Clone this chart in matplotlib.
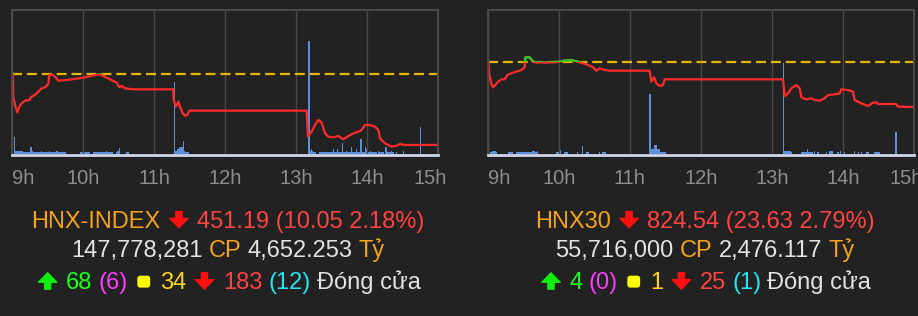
import matplotlib
matplotlib.use('Agg')
import numpy as np
from matplotlib import pyplot as plt
from matplotlib.patches import Rectangle, Polygon, FancyBboxPatch
from matplotlib.offsetbox import TextArea, HPacker, AnnotationBbox, DrawingArea
from matplotlib.transforms import ScaledTranslation

# ---- data -------------------------------------------------------------
hour_labels = ['9h', '10h', '11h', '12h', '13h', '14h', '15h']

# HNX-INDEX, minutes since 9:00 / index value
hnx_ref = 461.24
hnx_time = [0.6, 1.1, 2.5, 4.5, 6.2, 8.2, 11.0, 14.6, 16.6, 19.4, 22.3, 25.1,
            27.9, 30.7, 31.5, 34.4, 36.3, 39.2, 43.4, 46.2, 50.4, 54.7, 60.3,
            64.5, 68.7, 74.4, 77.2, 82.8, 88.5, 90.7, 92.7, 95.5, 99.7, 102.5,
            136.3, 136.6, 138.6, 140.6, 142.0, 144.2, 146.2, 148.2, 149.9,
            249.0, 250.1, 253.2, 256.1, 258.9, 261.7, 264.5, 267.3, 271.6,
            275.8, 280.0, 284.2, 288.5, 292.7, 295.5, 298.3, 302.5, 306.7,
            309.6, 311.0, 315.2, 320.8, 325.0, 327.9, 332.1, 359.4]
hnx_price = [461.35, 458.06, 456.87, 455.83, 456.64, 457.11, 457.49, 457.58,
             458.06, 458.30, 458.77, 459.24, 459.39, 459.86, 461.14, 461.14,
             460.90, 460.33, 460.38, 460.43, 460.52, 460.62, 460.76, 460.90,
             461.09, 461.22, 461.00, 460.52, 460.05, 459.39, 459.58, 459.24,
             459.15, 459.10, 459.10, 457.58, 456.64, 457.35, 456.64, 455.69,
             455.36, 455.45, 456.07, 456.07, 452.37, 453.08, 454.03, 454.74,
             454.36, 452.84, 452.37, 452.27, 452.46, 451.99, 452.46, 452.84,
             453.08, 453.32, 454.03, 454.03, 453.79, 453.32, 452.13, 451.42,
             450.95, 451.09, 451.33, 451.18, 451.19]
hnx_vol_min = [2, 3, 4, 5, 6, 7, 8, 9, 10, 11, 12, 13, 14, 15, 16, 17, 18, 19,
               20, 21, 22, 23, 24, 25, 26, 27, 28, 29, 30, 31, 32, 33, 34, 35,
               36, 37, 38, 39, 40, 41, 42, 43, 44, 45, 58, 59, 60, 61, 62, 63,
               64, 65, 69, 70, 71, 72, 73, 74, 75, 76, 77, 78, 79, 80, 81, 82,
               83, 84, 85, 88, 89, 90, 91, 97, 98,
               137, 138, 139, 140, 141, 142, 143, 144, 145, 146, 147, 148, 149,
               251, 252, 253, 254, 255, 256, 260, 261, 262, 263, 264, 265, 266,
               267, 268, 269, 270, 271, 272, 273, 274, 275, 276, 277, 278, 279,
               280, 281, 282, 283, 284, 285, 286, 287, 288, 289, 290, 291, 292,
               293, 294, 295, 296, 297, 298, 299, 300, 301, 302, 303, 304, 305,
               306, 307, 308, 310, 311, 312, 313, 314, 316, 317, 318, 319, 320,
               321, 322, 325, 331, 345]
hnx_vol = [17, 3, 3, 3, 3, 3, 3, 3, 1.3, 1.3, 1.3, 1.3, 1.3, 1.3, 7, 3, 1.3,
           1.3, 1.3, 1.3, 1.3, 1.3, 1.3, 3, 1.3, 1.3, 1.3, 1.3, 1.3, 1.3, 3,
           1.3, 1.3, 1.3, 1.3, 1.3, 3, 1.3, 1.3, 1.3, 1.3, 1.3, 1.3, 1.3, 1.3,
           1.3, 1.3, 1.3, 1.3, 1.3, 1.3, 1.3, 1.3, 1.3, 1.3, 1.3, 1.3, 1.3,
           1.3, 1.3, 1.3, 1.3, 1.3, 3, 1.3, 1.3, 1.3, 1.3, 1.3, 1.3, 3, 3, 6,
           1.3, 1.3,
           72, 3, 3, 5, 5, 7, 7, 7, 13, 3, 1.5, 1.5, 1.5,
           113, 3, 5, 3, 1.3, 1.3, 1.3, 1.3, 1.3, 1.3, 1.3, 1.3, 1.3, 1.3,
           1.3, 1.3, 1.3, 1.3, 5, 1.3, 1.3, 5, 1.3, 1.3, 1.3, 11, 1.3, 1.3,
           1.3, 3, 1.3, 1.3, 1.3, 7, 1.3, 1.3, 1.3, 5, 1.3, 1.3, 1.3, 15, 1.3,
           1.3, 1.3, 7, 5, 1.3, 1.3, 3, 1.3, 1.3, 1.3, 1.3, 1.3, 3, 1.3, 1.3,
           1.3, 1.3, 7, 1.3, 1.3, 1.3, 1.3, 3, 1.3, 1.3, 3, 27]

# HNX30
h30_ref = 848.17
h30_time = [0.6, 1.1, 2.8, 4.2, 6.2, 8.5, 11.3, 14.1, 16.3, 19.7, 24.0, 28.2,
            31.0, 31.6, 35.2, 38.1, 40.9, 43.7, 47.9, 53.6, 59.2, 64.8, 70.5,
            76.1, 80.3, 84.6, 88.8, 91.6, 94.4, 98.7, 102.9, 136.7, 138.1,
            140.4, 142.4, 145.2, 148.0, 149.4, 249.5, 250.9, 253.7, 256.5,
            260.7, 263.6, 265.0, 269.2, 273.4, 276.3, 280.5, 284.7, 287.5,
            293.2, 297.4, 298.8, 304.4, 308.7, 310.1, 315.7, 321.4, 325.6,
            328.4, 329.8, 345.3, 346.7, 360.0]
h30_price = [848.3, 841.45, 837.05, 834.93, 836.17, 837.93, 839.16, 839.16,
             841.45, 842.34, 843.22, 844.10, 845.51, 850.80, 850.80, 848.6,
             847.97, 848.3, 847.97, 848.2, 848.4, 849.03, 849.39, 848.5,
             847.63, 846.74, 845.51, 843.74, 844.98, 844.10, 843.74, 843.74,
             837.93, 840.22, 837.05, 835.64, 836.17, 839.16, 839.16, 830.35,
             831.76, 834.40, 836.17, 834.40, 829.65, 828.59, 829.12, 828.23,
             827.88, 829.12, 830.88, 831.23, 831.76, 833.88, 833.52, 832.64,
             828.23, 826.47, 825.06, 826.82, 827.0, 826.12, 826.12, 824.71,
             824.54]
h30_vol_min = [2, 3, 4, 5, 6, 7, 17, 18, 19, 20, 21, 24, 25, 26, 27, 28, 29,
               30, 31, 32, 33, 34, 35, 36, 37, 38, 39, 40, 41, 42, 58, 59, 60,
               61, 65, 66, 67, 76, 80, 83, 84, 85, 94, 97, 98, 99,
               137, 138, 139, 140, 141, 142, 143, 144, 145, 146, 147, 148, 149,
               150, 250, 251, 252, 253, 254, 255, 256, 257, 265, 266, 267, 268,
               269, 270, 271, 272, 273, 274, 276, 279, 286, 289, 290, 291, 296,
               298, 301, 310, 313, 316, 320, 321, 322, 327, 328, 329, 330, 331,
               345]
h30_vol = [1.3, 1.3, 3, 3, 3, 1.3, 1.3, 1.3, 1.3, 1.3, 1.3, 1.3, 1.3, 1.3,
           1.3, 1.3, 1.3, 1.3, 1.3, 1.3, 1.3, 1.3, 1.3, 1.3, 1.3, 3, 3, 1.3,
           1.3, 3, 1.3, 1.3, 1.3, 4, 1.3, 1.3, 1.3, 1.3, 8, 1.3, 1.3, 1.3, 1.3,
           1.3, 1.3, 1.3,
           60, 5, 5, 5, 9, 9, 5, 5, 5, 1.5, 1.5, 1.5, 1.5, 1.5,
           91, 3, 3, 3, 3, 3, 3, 1.3, 1.3, 1.3, 1.3, 1.3, 1.3, 5, 1.3, 1.3,
           1.3, 1.3, 3, 1.3, 1.3, 3, 3, 3, 1.3, 3, 1.3, 3, 1.3, 1.3, 1.3, 1.3,
           1.3, 1.3, 1.3, 1.3, 1.3, 1.3, 22]

# summary lines: (text, colour); 'UP' / 'DOWN' / 'SQ' are drawn symbols
ORANGE, RED, WHITE = '#f7a21b', '#ff4242', '#e2e2e2'
GREEN, MAGENTA, YELLOW, CYAN = '#1eff1e', '#ff3cff', '#ffd21e', '#22e4f2'
hnx_lines = [
    [('HNX-INDEX', ORANGE), ('DOWN', '#ff1010'), ('451.19 (10.05 2.18%)', RED)],
    [('147,778,281', WHITE), ('CP', ORANGE), ('4,652.253', WHITE), ('Tỷ', ORANGE)],
    [('UP', '#10ee10'), ('68', GREEN), ('(6)', MAGENTA), ('SQ', '#ffff00'),
     ('34', YELLOW), ('DOWN', '#ff1010'), ('183', RED), ('(12)', CYAN),
     ('Đóng cửa', WHITE)],
]
h30_lines = [
    [('HNX30', ORANGE), ('DOWN', '#ff1010'), ('824.54 (23.63 2.79%)', RED)],
    [('55,716,000', WHITE), ('CP', ORANGE), ('2,476.117', WHITE), ('Tỷ', ORANGE)],
    [('UP', '#10ee10'), ('4', GREEN), ('(0)', MAGENTA), ('SQ', '#ffff00'),
     ('1', YELLOW), ('DOWN', '#ff1010'), ('25', RED), ('(1)', CYAN),
     ('Đóng cửa', WHITE)],
]

# ---- drawing ----------------------------------------------------------
W, H = 918, 316
BG = '#222222'
FONT = ['Liberation Sans', 'DejaVu Sans']
plt.rcParams['font.family'] = FONT


def px_box(x0, y0, x1, y1):
    return [x0 / W, 1 - y1 / H, (x1 - x0) / W, (y1 - y0) / H]


def draw_chart(fig, x0, x1, times, prices, ref, ylim, vmin, vols):
    # volume bars sit just above the light baseline strip
    vax = fig.add_axes(px_box(x0, 10, x1, 153.6))
    vax.set_facecolor(BG)
    vax.bar(vmin, vols, width=1.0, color='#5b90dc', linewidth=0)
    vax.set_xlim(0, 360)
    vax.set_ylim(0, 143.6)
    vax.set_xticks(range(0, 361, 60))
    vax.grid(axis='x', color='#484848', lw=1.0)
    vax.tick_params(length=0, labelbottom=False, labelleft=False)
    for s in vax.spines.values():
        s.set_visible(False)

    ax = fig.add_axes(px_box(x0, 10, x1, 155))
    ax.set_facecolor('none')
    ax.set_xlim(0, 360)
    ax.set_ylim(*ylim)
    ax.axhline(ref, color='#e8b400', lw=1.6, dashes=(4.5, 2.2))
    ax.plot(times, prices, color='#ff2a2a', lw=1.6, solid_joinstyle='round')
    up, = ax.plot(times, prices, color='#2ccc2c', lw=1.6)
    up.set_clip_path(Rectangle((0, ref), 360, ylim[1] - ref, transform=ax.transData))

    for side in ('left', 'right', 'top'):
        ax.spines[side].set_color('#4a4a4a')
        ax.spines[side].set_linewidth(1.5)
    ax.spines['bottom'].set_color('#cfd6ea')
    ax.spines['bottom'].set_linewidth(2.0)
    ax.set_yticks([])
    ax.set_xticks(range(0, 361, 60), labels=hour_labels)
    ax.tick_params(axis='x', length=0, pad=10, colors='#8e8e8e', labelsize=14.5)
    labels = ax.get_xticklabels()
    labels[0].set_ha('left')
    labels[-1].set_transform(labels[-1].get_transform()
                             + ScaledTranslation(-8 / 100, 0, fig.dpi_scale_trans))
    return ax


def symbol(kind, color):
    if kind == 'SQ':
        da = DrawingArea(14.5, 12, 0, 0)
        da.add_artist(FancyBboxPatch((2.6, 1.2), 9.2, 8.6,
                                     boxstyle='round,pad=0,rounding_size=2',
                                     fc=color, ec='none'))
        return da
    w, h, sw, hh = 13.5, 12.0, 2.3, 7.0   # width, height, half stem, head
    x0 = 2.0
    pts = [(x0 + w / 2 - sw, h), (x0 + w / 2 + sw, h), (x0 + w / 2 + sw, hh),
           (x0 + w, hh), (x0 + w / 2, 0), (x0, hh), (x0 + w / 2 - sw, hh)]
    if kind == 'UP':
        pts = [(x, h - y) for x, y in pts]
    da = DrawingArea(w + 2 * x0, h, 0, 1.0)
    da.add_artist(Polygon(pts, closed=True, fc=color, ec=color, lw=0.8,
                          joinstyle='round'))
    return da


def text_line(fig, cx, cy, parts):
    kids = []
    for t, c in parts:
        if t in ('UP', 'DOWN', 'SQ'):
            kids.append(symbol(t, c))
        else:
            kids.append(TextArea(t, textprops=dict(color=c, fontsize=17, family=FONT)))
    pack = HPacker(children=kids, align='baseline', pad=0, sep=4.4)
    ab = AnnotationBbox(pack, (cx, H - cy), xycoords='figure pixels',
                        box_alignment=(0.5, 0.5), frameon=False, pad=0)
    fig.add_artist(ab)


fig = plt.figure(figsize=(W / 100, H / 100), dpi=100, facecolor=BG)

draw_chart(fig, 12, 438, hnx_time, hnx_price, hnx_ref,
           (449.76, 470.38), hnx_vol_min, hnx_vol)
draw_chart(fig, 488, 913.7, h30_time, h30_price, h30_ref,
           (799.15, 875.83), h30_vol_min, h30_vol)

for cy, parts in zip((222, 250.5, 282.5), hnx_lines):
    text_line(fig, 228, cy, parts)
for cy, parts in zip((222, 250.5, 282.5), h30_lines):
    text_line(fig, 705, cy, parts)

fig.savefig('out.png', dpi=100, facecolor=BG)
plt.close(fig)
